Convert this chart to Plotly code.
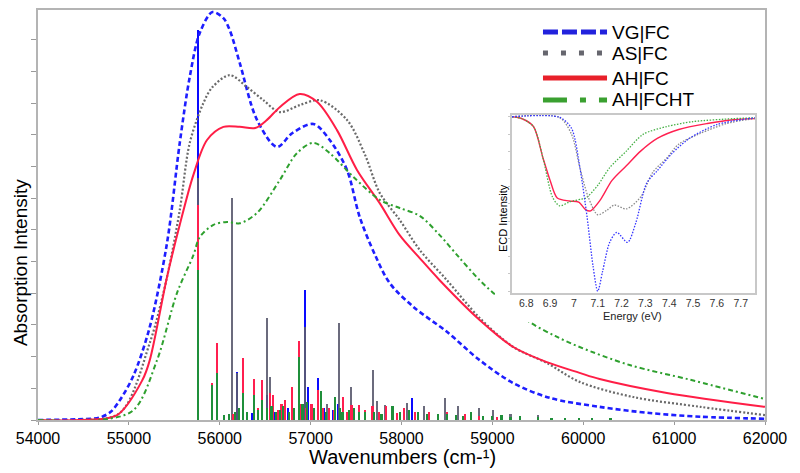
import plotly.graph_objects as go

FONT = "Liberation Sans, Arial, sans-serif"

# ---------------- main spectra (wavenumber, relative absorption) -------------
vg_wn = [54000, 54450, 54680, 54800, 54900, 55050, 55230, 55420, 55560, 55670, 55780, 55920,
         56040, 56110, 56220, 56410, 56630, 56800, 57030, 57210, 57400, 57540, 57710, 57870,
         58130, 58500, 58860, 59230, 59630, 60180, 60730, 61290, 62000]
vg_y = [0, 0.002, 0.006, 0.020, 0.048, 0.108, 0.227, 0.432, 0.676, 0.837, 0.944, 0.995,
        0.980, 0.951, 0.871, 0.732, 0.666, 0.700, 0.722, 0.683, 0.610, 0.495, 0.402, 0.334,
        0.276, 0.215, 0.146, 0.090, 0.054, 0.032, 0.017, 0.008, 0.003]

as_wn = [54000, 54450, 54900, 55230, 55420, 55560, 55670, 55820, 55920, 56110, 56300, 56480,
         56660, 56880, 57100, 57400, 57600, 57760, 57980, 58200, 58500, 58860, 59230, 59600,
         59960, 60550, 61290, 62000]
as_y = [0, 0.0, 0.017, 0.188, 0.349, 0.512, 0.676, 0.773, 0.812, 0.841, 0.812, 0.780,
        0.751, 0.768, 0.780, 0.732, 0.646, 0.554, 0.488, 0.415, 0.341, 0.249, 0.178, 0.139,
        0.093, 0.056, 0.032, 0.012]

ah_wn = [54000, 54450, 54870, 55150, 55230, 55420, 55560, 55710, 55860, 56040, 56220, 56390,
         56520, 56660, 56880, 57070, 57290, 57510, 57760, 57980, 58200, 58420, 58860, 59230,
         59600, 59960, 60180, 60920, 62000]
ah_y = [0, 0, 0.012, 0.098, 0.146, 0.349, 0.476, 0.598, 0.683, 0.715, 0.715, 0.712,
        0.732, 0.763, 0.795, 0.776, 0.707, 0.610, 0.529, 0.451, 0.395, 0.341, 0.244, 0.178,
        0.141, 0.115, 0.100, 0.066, 0.032]

ht_wn = [54000, 54680, 55050, 55310, 55530, 55710, 55780, 55930, 56080, 56220, 56410, 56660,
         56850, 57030, 57210, 57470, 57760, 57980, 58200, 58420, 58640, 58860, 59010, 59410,
         59690, 59960, 60510, 61180, 62000]
ht_y = [0, 0, 0.024, 0.146, 0.310, 0.402, 0.446, 0.476, 0.483, 0.480, 0.505, 0.585,
        0.651, 0.676, 0.651, 0.593, 0.537, 0.517, 0.498, 0.451, 0.395, 0.341, 0.310, 0.239,
        0.205, 0.178, 0.134, 0.098, 0.051]

# ---------------- stick spectra --------------------------------------------
vg_stick_wn = [55760, 56190, 56355, 56520, 56600, 56750, 56940, 56970, 57080, 57150, 57250,
               57300, 57440, 58115, 58300]
vg_stick_h = [0.951, 0.117, 0.017, 0.06, 0.02, 0.03, 0.317, 0.080, 0.102, 0.03, 0.025,
              0.04, 0.03, 0.054, 0.02]

as_stick_wn = [55760, 56135, 56190, 56520, 56553, 56870, 56940, 57000, 57180, 57312, 57444,
               57686, 57730, 57818, 58060, 58247, 58479, 58622, 58853, 59007, 59200, 59500]
as_stick_h = [0.590, 0.541, 0.115, 0.249, 0.105, 0.05, 0.227, 0.03, 0.04, 0.237, 0.080,
              0.122, 0.046, 0.037, 0.041, 0.034, 0.054, 0.034, 0.029, 0.024, 0.015, 0.012]

ah_stick_wn = [55760, 55915, 55970, 56050, 56150, 56256, 56377, 56420, 56465, 56553, 56586,
               56640, 56680, 56720, 56795, 56872, 56900, 56950, 57010, 57081, 57130, 57200,
               57260, 57356, 57400, 57450, 57530, 57600, 57680, 57750, 57830, 57950, 58030,
               58150, 58300, 58400, 58500, 58600, 58700, 58850, 59050, 59300]
ah_stick_h = [0.524, 0.090, 0.188, 0.01, 0.015, 0.151, 0.100, 0.03, 0.098, 0.066, 0.061,
              0.025, 0.04, 0.05, 0.080, 0.193, 0.04, 0.03, 0.04, 0.073, 0.03, 0.03,
              0.025, 0.056, 0.02, 0.037, 0.037, 0.025, 0.033, 0.02, 0.033, 0.018, 0.03,
              0.02, 0.02, 0.015, 0.02, 0.012, 0.015, 0.01, 0.008, 0.006]

ht_stick_wn = [55760, 55915, 55970, 56050, 56100, 56170, 56210, 56256, 56300, 56377, 56420,
               56465, 56520, 56570, 56620, 56660, 56700, 56760, 56820, 56872, 56910, 56960,
               57040, 57114, 57170, 57268, 57320, 57350, 57420, 57480, 57530, 57600, 57700,
               57780, 57900, 57980, 58080, 58180, 58280, 58400, 58500, 58600, 58680, 58765,
               58900, 59000, 59100, 59200, 59300, 59500, 59650, 59800, 59950, 60100, 60300]
ht_stick_h = [0.366, 0.085, 0.115, 0.012, 0.015, 0.02, 0.03, 0.066, 0.02, 0.061, 0.025,
              0.049, 0.03, 0.035, 0.02, 0.025, 0.035, 0.02, 0.03, 0.154, 0.04, 0.045,
              0.03, 0.071, 0.02, 0.056, 0.03, 0.02, 0.025, 0.03, 0.02, 0.02, 0.02,
              0.015, 0.033, 0.02, 0.025, 0.02, 0.015, 0.015, 0.015, 0.012, 0.01, 0.020,
              0.01, 0.01, 0.012, 0.008, 0.01, 0.008, 0.006, 0.006, 0.005, 0.005, 0.004]

# ---------------- inset ECD spectra (energy eV, intensity) -------------------
ecd_vg_e = [6.74, 6.94, 6.99, 7.025, 7.055, 7.08, 7.10, 7.12, 7.15, 7.18, 7.225, 7.26,
            7.305, 7.35, 7.41, 7.485, 7.60, 7.76]
ecd_vg_y = [0, -0.003, -0.067, -0.292, -0.573, -0.854, -1.0, -0.888, -0.72, -0.663, -0.72,
            -0.607, -0.382, -0.309, -0.213, -0.124, -0.045, -0.006]

ecd_as_e = [6.74, 6.94, 6.99, 7.025, 7.06, 7.10, 7.14, 7.17, 7.22, 7.28, 7.33, 7.39, 7.44,
            7.53, 7.64, 7.76]
ecd_as_y = [0, -0.005, -0.101, -0.292, -0.46, -0.562, -0.534, -0.506, -0.528, -0.46, -0.32,
            -0.236, -0.157, -0.096, -0.039, -0.01]

ecd_ah_e = [6.74, 6.78, 6.83, 6.87, 6.90, 6.93, 6.98, 7.02, 7.05, 7.07, 7.11, 7.16, 7.22,
            7.28, 7.35, 7.44, 7.56, 7.67, 7.76]
ecd_ah_y = [0, -0.01, -0.056, -0.236, -0.365, -0.466, -0.483, -0.489, -0.534, -0.539, -0.478,
            -0.365, -0.281, -0.197, -0.124, -0.073, -0.039, -0.017, -0.011]

ecd_ht_e = [6.74, 6.78, 6.83, 6.87, 6.91, 6.94, 6.98, 7.03, 7.05, 7.10, 7.15, 7.22, 7.29,
            7.39, 7.50, 7.67, 7.76]
ecd_ht_y = [0, -0.01, -0.056, -0.236, -0.46, -0.511, -0.489, -0.472, -0.466, -0.393, -0.292,
            -0.197, -0.101, -0.056, -0.028, -0.011, -0.006]

inset_ticks = [6.8, 6.9, 7.0, 7.1, 7.2, 7.3, 7.4, 7.5, 7.6, 7.7]
inset_ticktext = ["6.8", "6.9", "7", "7.1", "7.2", "7.3", "7.4", "7.5", "7.6", "7.7"]

legend_names = ["VG|FC", "AS|FC", "AH|FC", "AH|FCHT"]

# ---------------- figure -----------------------------------------------------
fig = go.Figure()

stick_specs = [
    (vg_stick_wn, vg_stick_h, "#0a0aff", 1.0),
    (as_stick_wn, as_stick_h, "#5c5c70", 0.9),
    (ah_stick_wn, ah_stick_h, "#ff1f4f", 1.0),
    (ht_stick_wn, ht_stick_h, "#1f8f3a", 1.0),
]
for xs, hs, col, op in stick_specs:
    fig.add_trace(go.Bar(x=xs, y=hs, width=24, marker=dict(color=col, line_width=0),
                         opacity=op, showlegend=False, hoverinfo="skip"))

curve_specs = [
    (vg_wn, vg_y, "#1e1eff", "5px,3px", 2.6),
    (as_wn, as_y, "#6a6a6a", "2px,2px", 2.2),
    (ah_wn, ah_y, "#ff1e46", "solid", 2.0),
    (ht_wn, ht_y, "#2ea02e", "5px,3px,2px,3px", 2.0),
]
for xs, ys, col, dash, w in curve_specs:
    fig.add_trace(go.Scatter(x=xs, y=ys, mode="lines",
                             line=dict(color=col, dash=dash, width=w, shape="spline", smoothing=0.9),
                             showlegend=False, hoverinfo="skip"))

# white cover panel for the inset (separate subplot drawn above main traces)
fig.add_trace(go.Scatter(x=[0, 1, 1, 0, 0], y=[0, 0, 1, 1, 0], mode="lines", fill="toself",
                         fillcolor="white", line=dict(width=0), xaxis="x2", yaxis="y2",
                         showlegend=False, hoverinfo="skip"))

inset_specs = [
    (ecd_ah_e, ecd_ah_y, "#ff2050", "solid", 1.4),
    (ecd_ht_e, ecd_ht_y, "#46b046", "1.5px,1.5px", 1.3),
    (ecd_as_e, ecd_as_y, "#8a8a8a", "1.5px,1.5px", 1.3),
    (ecd_vg_e, ecd_vg_y, "#3535ff", "1.5px,1.5px", 1.3),
]
for xs, ys, col, dash, w in inset_specs:
    fig.add_trace(go.Scatter(x=xs, y=ys, mode="lines", xaxis="x3", yaxis="y3",
                             line=dict(color=col, dash=dash, width=w, shape="spline", smoothing=0.8),
                             showlegend=False, hoverinfo="skip"))

# ---------------- custom legend ---------------------------------------------
leg_styles = [
    ("#2222dd", "15px,4px", 5),
    ("#66666e", "5px,13px", 5),
    ("#e8202a", "solid", 5),
    ("#3aa030", "24px,13px,6px,13px", 5),
]
leg_y = [0.9463, 0.8951, 0.8341, 0.7805]
shapes = []
annotations = []
for name, (col, dash, w), yy in zip(legend_names, leg_styles, leg_y):
    shapes.append(dict(type="line", xref="paper", yref="paper", x0=0.6946, x1=0.7827,
                       y0=yy, y1=yy, line=dict(color=col, dash=dash, width=w)))
    annotations.append(dict(text=name, xref="paper", yref="paper", x=0.7868, y=yy,
                            xanchor="left", yanchor="middle", showarrow=False,
                            font=dict(family=FONT, size=19, color="black")))

annotations.append(dict(text="Wavenumbers (cm-¹)", xref="paper", yref="paper", x=0.5017,
                        y=-0.090, xanchor="center", yanchor="middle", showarrow=False,
                        font=dict(family=FONT, size=20, color="black")))
annotations.append(dict(text="Absorption Intensity", xref="paper", yref="paper", x=-0.0248,
                        y=0.385, xanchor="center", yanchor="middle", showarrow=False,
                        textangle=-90, font=dict(family=FONT, size=19, color="black")))
annotations.append(dict(text="ECD Intensity", xref="paper", yref="paper", x=0.6396,
                        y=0.4927, xanchor="center", yanchor="middle", showarrow=False,
                        textangle=-90, font=dict(family=FONT, size=11, color="black")))
annotations.append(dict(text="Energy (eV)", xref="paper", yref="paper", x=0.8184,
                        y=0.2537, xanchor="center", yanchor="middle", showarrow=False,
                        font=dict(family=FONT, size=11, color="#222")))

fig.update_layout(
    width=800, height=473,
    margin=dict(l=38, r=35, t=10, b=53),
    paper_bgcolor="white", plot_bgcolor="white",
    barmode="overlay", bargap=0,
    font=dict(family=FONT, color="black"),
    showlegend=False,
    shapes=shapes, annotations=annotations,
    xaxis=dict(range=[54000, 62000], dtick=1000, tick0=54000, tickformat="d",
               ticks="outside", ticklen=3, automargin=False,
               tickcolor="#9a9a9a", showline=True, mirror=True, linecolor="#b4b4b4",
               linewidth=2, showgrid=False, zeroline=False,
               tickfont=dict(family=FONT, size=16, color="black")),
    yaxis=dict(range=[0, 1.0], tick0=0, dtick=0.07724, ticks="outside", ticklen=5,
               automargin=False,
               tickcolor="#9a9a9a", showticklabels=False, showline=True, mirror=True,
               linecolor="#b4b4b4", linewidth=2, showgrid=False, zeroline=False),
    xaxis2=dict(domain=[0.6286, 0.9973], range=[0, 1], visible=False, anchor="y2"),
    yaxis2=dict(domain=[0.239, 0.761], range=[0, 1], visible=False, anchor="x2"),
    xaxis3=dict(domain=[0.652, 0.9862], range=[6.74, 7.76], anchor="y3",
                tickvals=inset_ticks, ticktext=inset_ticktext, ticks="", automargin=False,
                showline=True, mirror=True, linecolor="#c8c8c8",
                linewidth=1.5, showgrid=False, zeroline=False,
                tickfont=dict(family=FONT, size=10.5, color="#333")),
    yaxis3=dict(domain=[0.3098, 0.7439], range=[-1.01, 0.01], anchor="x3",
                showticklabels=False, ticks="outside", ticklen=2, dtick=0.1, automargin=False,
                tickcolor="#c8c8c8", showline=True, mirror=True, linecolor="#c8c8c8",
                linewidth=1.5, showgrid=False, zeroline=False),
)

fig.write_html("out.html", config={"displayModeBar": False},
               post_script="document.body.style.margin='0px';")
